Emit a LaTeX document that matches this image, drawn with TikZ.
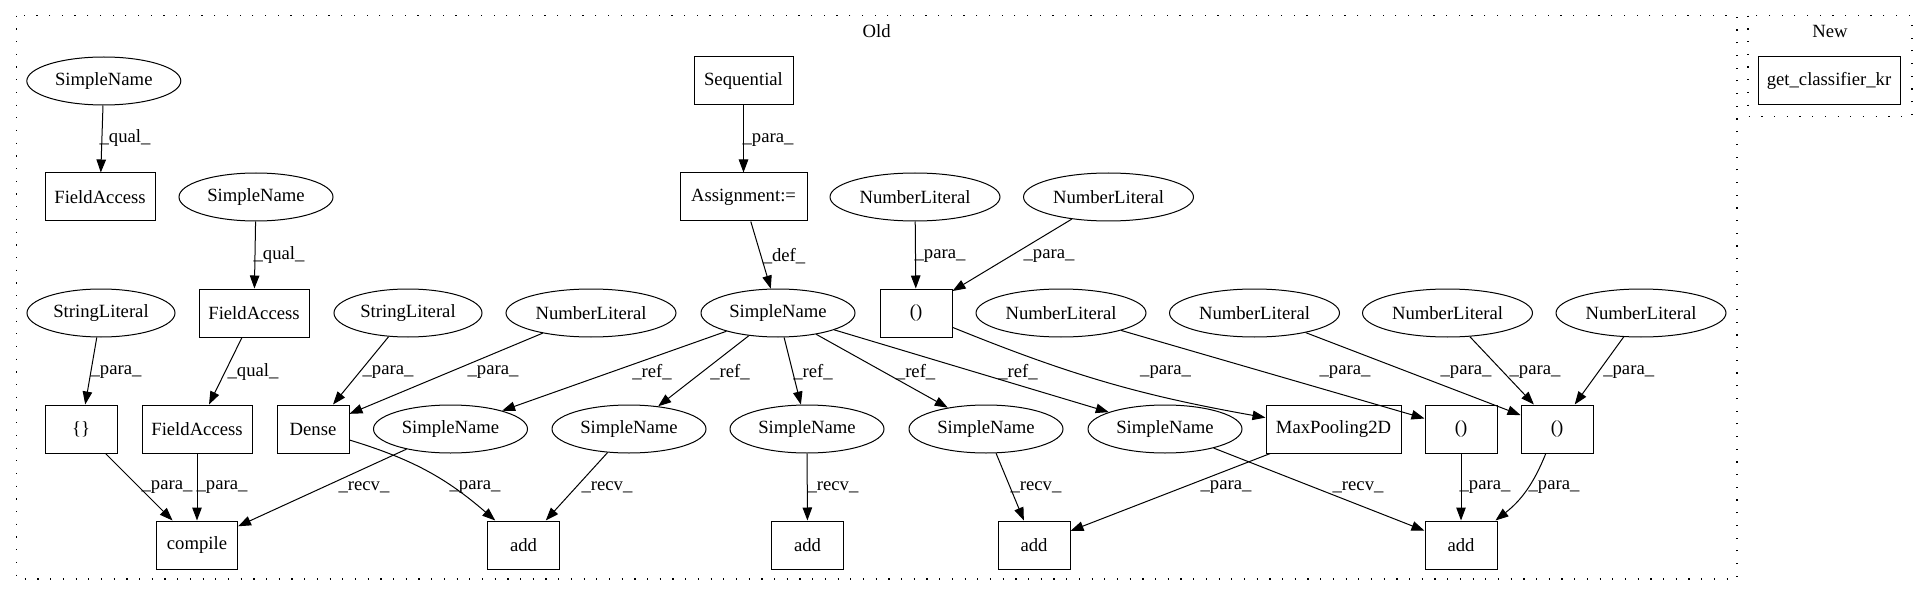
\documentclass[tikz,border=0pt]{standalone}
\usepackage{fontspec}
\setmainfont{Liberation Serif}
\usetikzlibrary{shapes.geometric, arrows.meta}

\begin{document}
\begin{tikzpicture}[x=1pt, y=-1pt, font=\fontsize{18.67}{22}\selectfont,
    box/.style={draw, line width=1pt, rectangle, minimum height=48pt, inner sep=0pt},
    oval/.style={draw, line width=1pt, ellipse, minimum height=48pt, inner sep=0pt},
    edge/.style={line width=1pt, -{Triangle[length=13pt, width=9.5pt]}},
    lbl/.style={inner sep=0pt},
    cluster/.style={line width=1.2pt, dash pattern=on 1.2pt off 11.5pt}]
    % Define node widths
    \def\wsn{154pt}
    \def\wnl{170pt}
    \def\wsl{148pt}
    \useasboundingbox (0,0) rectangle (1927,596);

    % 1. The two clusters
    \draw[cluster] (16.5,15.7) rectangle (1737,579);
    \node (oldtitle) at (876.7,30.7) {Old};
    \draw[cluster] (1748,15.7) rectangle (1912,116.7);
    \node (newtitle) at (1830,31.7) {New};
    \node[box, minimum width=142pt] (getclf) at (1829,81) {get\_classifier\_kr};

    % 2. Left part: compile
    \node[oval, minimum width=\wsn] (qualA) at (103.8,81) {SimpleName};
    \node[box, minimum width=110pt] (faA) at (100,197) {FieldAccess};
    \node[oval, minimum width=\wsn] (qualB) at (256,197) {SimpleName};
    \node[box, minimum width=110pt] (faB) at (254,313) {FieldAccess};
    \node[oval, minimum width=\wsl] (strA) at (101,313) {StringLiteral};
    \node[box, minimum width=72pt] (braces) at (81,429) {\{\}};
    \node[box, minimum width=110pt] (faC) at (197,429) {FieldAccess};
    \node[box, minimum width=81pt] (compile) at (197,545) {compile};

    % 3. Dense layer
    \node[oval, minimum width=\wsl] (strB) at (408,313) {StringLiteral};
    \node[oval, minimum width=\wnl] (numDense) at (591,313) {NumberLiteral};
    \node[box, minimum width=72pt] (dense) at (313,429) {Dense};

    % 4. Sequential model and its references
    \node[box, minimum width=99pt] (seq) at (743.5,81) {Sequential};
    \node[box, minimum width=127pt] (assign) at (743.5,197) {Assignment:=};
    \node[oval, minimum width=\wsn] (model) at (778,313) {SimpleName};
    \foreach \x [count=\i] in {450.5,629,807,986,1165}
        \node[oval, minimum width=\wsn] (ref\i) at (\x,429) {SimpleName};
    \foreach \x [count=\i] in {523.5,807.5,1034,1461}
        \node[box, minimum width=72pt] (add\i) at (\x,545) {add};

    % 5. Tuples and pooling
    \node[oval, minimum width=\wnl] (numA) at (915,197) {NumberLiteral};
    \node[oval, minimum width=\wnl] (numB) at (1108.5,197) {NumberLiteral};
    \node[box, minimum width=72pt] (tupA) at (916,313) {()};
    \node[oval, minimum width=\wnl] (numC) at (1061,313) {NumberLiteral};
    \node[oval, minimum width=\wnl] (numD) at (1254.5,313) {NumberLiteral};
    \node[oval, minimum width=\wnl] (numE) at (1447.5,313) {NumberLiteral};
    \node[oval, minimum width=\wnl] (numF) at (1641,313) {NumberLiteral};
    \node[box, minimum width=135pt] (pool) at (1333.5,429) {MaxPooling2D};
    \node[box, minimum width=72pt] (tupB) at (1461,429) {()};
    \node[box, minimum width=72pt] (tupC) at (1557,429) {()};

    % 6. Edges
    \draw[edge] (qualA) -- (faA) node[lbl] at (125,138) {\_qual\_};
    \draw[edge] (qualB) -- (faB) node[lbl] at (279,255) {\_qual\_};
    \draw[edge] (faB) -- (faC) node[lbl] at (253,372) {\_qual\_};
    \draw[edge] (strA) -- (braces) node[lbl] at (116,372) {\_para\_};
    \draw[edge] (braces) -- (compile) node[lbl] at (167,487) {\_para\_};
    \draw[edge] (faC) -- (compile) node[lbl] at (222,487) {\_para\_};
    \draw[edge] (strB) -- (dense) node[lbl] at (388,372) {\_para\_};
    \draw[edge] (numDense) -- (dense) node[lbl] at (493,372) {\_para\_};
    \draw[edge] (ref1) -- (compile) node[lbl] at (364,487) {\_recv\_};
    \draw[edge] (dense) to[bend left=12] (add1);
    \node[lbl] (lblDense) at (475,487) {\_para\_};
    \draw[edge] (ref2) -- (add1) node[lbl] at (607,487) {\_recv\_};
    \draw[edge] (seq) -- (assign) node[lbl] at (768,140) {\_para\_};
    \draw[edge] (assign) -- (model) node[lbl] at (784,256) {\_def\_};
    \foreach \i/\lx in {1/652,2/730,3/813,4/915.6,5/1018}
        \draw[edge] (model) -- (ref\i) node[lbl] at (\lx,372) {\_ref\_};
    \draw[edge] (numA) -- (tupA) node[lbl] at (940,256) {\_para\_};
    \draw[edge] (numB) -- (tupA) node[lbl] at (1049,256) {\_para\_};
    \draw[edge] (tupA) to[bend right=6] (pool);
    \node[lbl] (lblPool) at (1165.6,372) {\_para\_};
    \draw[edge] (numC) -- (tupB) node[lbl] at (1345,372) {\_para\_};
    \draw[edge] (numD) -- (tupC) node[lbl] at (1466,372) {\_para\_};
    \draw[edge] (numE) -- (tupC) node[lbl] at (1535,372) {\_para\_};
    \draw[edge] (numF) -- (tupC) node[lbl] at (1628.7,372) {\_para\_};
    \draw[edge] (ref3) -- (add2) node[lbl] at (833,487) {\_recv\_};
    \draw[edge] (ref4) -- (add3) node[lbl] at (1036,487) {\_recv\_};
    \draw[edge] (pool) -- (add3) node[lbl] at (1226,487) {\_para\_};
    \draw[edge] (ref5) -- (add4) node[lbl] at (1358,487) {\_recv\_};
    \draw[edge] (tupB) -- (add4) node[lbl] at (1485,487) {\_para\_};
    \draw[edge] (tupC) to[bend left=15] (add4);
    \node[lbl] (lblAdd) at (1554,487) {\_para\_};
\end{tikzpicture}
\end{document}
